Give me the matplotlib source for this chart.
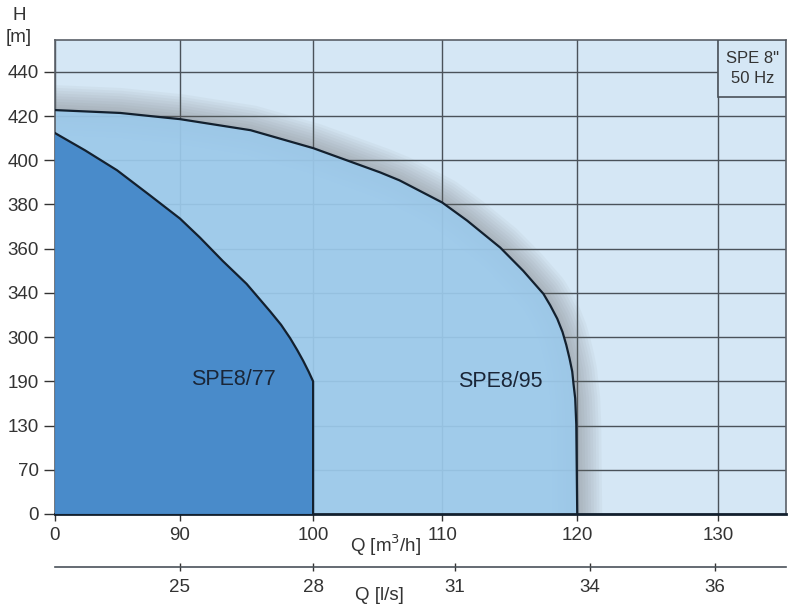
import matplotlib.pyplot as plt
import numpy as np

plt.rcParams['font.family'] = ['Liberation Sans', 'DejaVu Sans']

# Pump curves (Q in m3/h, H in m)
q_95 = [0, 47, 90, 95.3, 100, 105.2, 106.7, 110, 111.85, 114.3, 116.0, 117.5,
        118.0, 118.52, 118.91, 119.19, 119.43, 119.63, 119.73, 119.85,
        119.93, 120]
h_95 = [422.7, 421.4, 418.6, 413.6, 405.5, 394.5, 390.9, 380.9, 372.7, 360.5,
        350, 339.1, 328.8, 316.7, 304.7, 280.4, 247, 214.4, 185.5, 166.8,
        131.4, 0]
q_77 = [0, 21.6, 44.6, 68.4, 90, 91.5, 93.2, 95.0, 96.77, 97.59, 98.27,
        98.8, 99.25, 99.66, 100, 100]
h_77 = [412.3, 404.5, 395.5, 384.1, 373.6, 365, 354.5, 344.1, 323.3, 311.2,
        297.6, 268.2, 241.3, 214.4, 190, 0]

# Axis tick labels
q_ticks = [0, 90, 100, 110, 120, 130]
h_ticks = [0, 70, 130, 190, 300, 340, 360, 380, 400, 420, 440]
ls_ticks = [25, 28, 31, 34, 36]

# Non-uniform axis layout (positions of the tick marks on the chart)
q_anchor = [0, 90, 100, 110, 120, 130, 140]
q_pos = [0, 125, 258, 387, 522, 663, 804]
h_anchor = [0, 70, 130, 190, 300, 340, 360, 380, 400, 420, 440, 460]
h_pos = list(range(12))
ls_pos = [125 / 731, 258 / 731, 400 / 731, 535 / 731, 660 / 731]

BG = '#d5e7f5'
LIGHT = '#9cc9ea'
DARK = '#4588c9'
LINE = '#13202e'
GRID = '#4a525a'


def qf(v):
    return np.interp(v, q_anchor, q_pos)


def qi(p):
    return np.interp(p, q_pos, q_anchor)


def hf(v):
    return np.interp(v, h_anchor, h_pos)


def hi(p):
    return np.interp(p, h_pos, h_anchor)


fig = plt.figure(figsize=(7.89, 6.08), dpi=100)
ax = fig.add_axes([55 / 789, 1 - 514 / 608, 731 / 789, 474 / 608])
ax.set_xscale('function', functions=(qf, qi))
ax.set_yscale('function', functions=(hf, hi))
ax.set_facecolor(BG)
ax.set_xlim(0, 134.8)
ax.set_ylim(0, 454.4)

ax.set_xticks(q_ticks)
ax.set_yticks(h_ticks)
ax.set_xticklabels([str(v) for v in q_ticks])
ax.set_yticklabels([str(v) for v in h_ticks])
ax.xaxis.set_minor_locator(plt.NullLocator())
ax.yaxis.set_minor_locator(plt.NullLocator())
ax.tick_params(axis='both', labelsize=13.5, colors='#333333', length=8, width=1)
ax.tick_params(axis='x', length=5, pad=4)
ax.grid(True, color=GRID, linewidth=1.0, zorder=0.5)
ax.set_axisbelow(True)
for side in ['top', 'right', 'left']:
    ax.spines[side].set_color('#5a6068')
    ax.spines[side].set_linewidth(1.2)
ax.spines['bottom'].set_color(LINE)
ax.spines['bottom'].set_linewidth(2)

# soft shadow around the outer curve
for lw in range(36, 2, -4):
    ax.plot(q_95, h_95, color='#6a6a6a', alpha=0.05, linewidth=lw,
            solid_capstyle='round', solid_joinstyle='round', zorder=1)

ax.fill(q_95 + [0], h_95 + [0], color=LIGHT, alpha=0.93, zorder=2, linewidth=0)
ax.fill(q_77 + [0], h_77 + [0], color=DARK, alpha=0.95, zorder=3, linewidth=0)
ax.plot(q_95, h_95, color=LINE, linewidth=1.6, zorder=4,
        solid_joinstyle='round')
ax.plot(q_77, h_77, color=LINE, linewidth=1.6, zorder=4,
        solid_joinstyle='round')

ax.text(94, 195, 'SPE8/77', fontsize=15.5, color='#1a2638',
        ha='center', va='center', zorder=5)
ax.text(114.3, 190, 'SPE8/95', fontsize=15.5, color='#1a2638',
        ha='center', va='center', zorder=5)

# info box at top right
ax.fill([130, 134.8, 134.8, 130], [428.7, 428.7, 454.4, 454.4],
        facecolor=BG, edgecolor='#4a525a', linewidth=1.2, zorder=6)
ax.text(132.45, 441.5, 'SPE 8"\n50 Hz', fontsize=12, color='#333333',
        ha='center', va='center', linespacing=1.4, zorder=7)

# axis titles
fig.text(13 / 789, 1 - 15 / 608, 'H', fontsize=13.5, color='#333333',
         ha='left', va='center')
fig.text(6 / 789, 1 - 38 / 608, '[m]', fontsize=13.5, color='#333333',
         ha='left', va='center')
fig.text(350 / 789, 1 - 545 / 608, 'Q [m$^3$/h]', fontsize=13.5,
         color='#333333', ha='left', va='center')

# secondary l/s scale
ax2 = fig.add_axes([55 / 789, 1 - 567 / 608, 731 / 789, 0.001])
ax2.set_xlim(0, 1)
ax2.set_yticks([])
for side in ['top', 'right', 'left']:
    ax2.spines[side].set_visible(False)
ax2.spines['bottom'].set_color('#4a525a')
ax2.spines['bottom'].set_linewidth(1.2)
ax2.set_xticks(ls_pos)
ax2.set_xticklabels([str(v) for v in ls_ticks])
ax2.tick_params(axis='x', labelsize=13.5, colors='#333333', length=6,
                width=1, direction='inout', pad=6)
fig.text(355 / 789, 1 - 595 / 608, 'Q [l/s]', fontsize=13.5,
         color='#333333', ha='left', va='center')

plt.savefig('out.png', dpi=100)
plt.close()
